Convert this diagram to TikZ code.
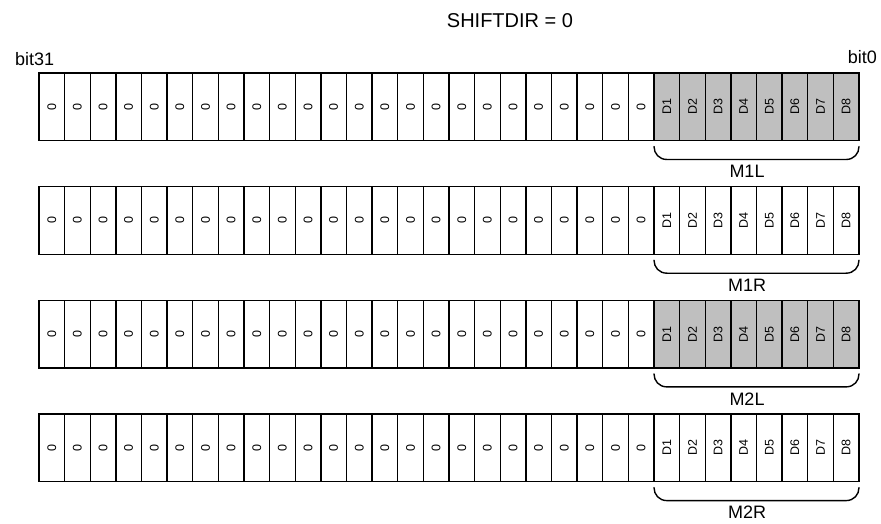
\documentclass[tikz,border=0pt]{standalone}
\usepackage{fontspec}
\setmainfont{Liberation Sans}
\usepackage{graphicx}
\begin{document}
\begin{tikzpicture}[x=1pt,y=-1pt,
  cell/.style={draw=black, line width=1.4pt, minimum width=25.625pt, minimum height=67.5pt, inner sep=0pt, font=\fontsize{12.5}{12.5}\selectfont},
  dcell/.style={cell, fill=black!25},
  zcell/.style={cell, fill=white},
  lbl/.style={font=\fontsize{18}{18}\selectfont, inner sep=0pt},
  bracket/.style={line width=1.4pt, line cap=round}]
\useasboundingbox (0,0) rectangle (881,524);
\node[lbl, font=\fontsize{20}{20}\selectfont] (title) at (510,21) {SHIFTDIR = 0};
\node[lbl, anchor=base west] (b31) at (15,65.5) {bit31};
\node[lbl, anchor=base east] (b0) at (877,63.5) {bit0};
\foreach \r/\sh/\nm in {0/dcell/M1L,1/zcell/M1R,2/dcell/M2L,3/zcell/M2R} {
  \pgfmathsetmacro\rtop{73+113.7*\r}
  \pgfmathsetmacro\rmid{\rtop+33.75}
  \pgfmathsetmacro\rbot{\rtop+67.5}
  \foreach \c in {0,...,23} {
    \pgfmathsetmacro\cx{39+25.625*(\c+0.5)}
    \node[zcell] (r\r c\c) at (\cx,\rmid) {\rotatebox{90}{0}};
  }
  \foreach \c in {24,...,31} {
    \pgfmathsetmacro\cx{39+25.625*(\c+0.5)}
    \pgfmathtruncatemacro\d{\c-23}
    \node[\sh] (r\r c\c) at (\cx,\rmid) {\rotatebox{90}{D\d}};
  }
  \pgfmathsetmacro\bt{\rbot+6}
  \pgfmathsetmacro\bb{\rbot+19}
  \coordinate (bl\r) at (654,\bt);
  \coordinate (br\r) at (859,\bt);
  \draw[bracket] (bl\r) .. controls (654,\bb-6) and (659,\bb) .. (667,\bb)
     -- (846,\bb) .. controls (854,\bb) and (859,\bb-6) .. (br\r);
  \node[lbl] (lab\r) at (747,\rbot+31) {\nm};
}
\end{tikzpicture}
\end{document}
